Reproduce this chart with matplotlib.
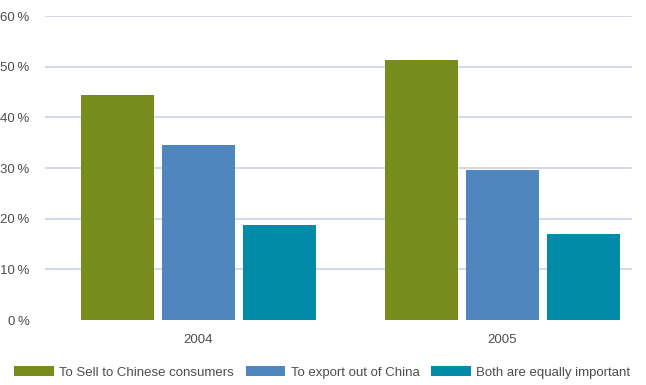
import matplotlib.pyplot as plt
import numpy as np
from matplotlib.ticker import FuncFormatter

plt.rcParams['font.family'] = ['Liberation Sans', 'DejaVu Sans']

# survey shares (%) by year
years = ['2004', '2005']
series = ['To Sell to Chinese consumers', 'To export out of China', 'Both are equally important']
sell_china = [44.4, 51.3]
export_out = [34.6, 29.7]
both_equal = [18.8, 16.9]
colors = ['#788c1e', '#5086be', '#008ca8']

fig = plt.figure(figsize=(6.46, 3.85), dpi=100)
ax = fig.add_axes([0.0697, 0.1688, 0.9083, 0.7896])

x = np.arange(len(years))
width = 0.24
step = 0.2664
for i, (vals, label) in enumerate(zip([sell_china, export_out, both_equal], series)):
    ax.bar(x + (i - 1) * step, vals, width, color=colors[i], label=label, zorder=3)

ax.set_ylim(0, 60)
ax.set_xlim(-0.505, 1.426)
ax.set_yticks(range(0, 61, 10))
ax.yaxis.set_major_formatter(FuncFormatter(lambda v, p: '%d\u2009%%' % v))
ax.set_xticks(x)
ax.set_xticklabels(years)
ax.grid(axis='y', color='#cdd3e8', linewidth=1.2, zorder=0)
ax.yaxis.get_gridlines()[0].set_visible(False)
for s in ax.spines.values():
    s.set_visible(False)
ax.tick_params(length=0, colors='#4d4d4d', labelsize=9.5)
ax.tick_params(axis='y', pad=11)
ax.tick_params(axis='x', pad=10)

fig.legend(loc='lower left', bbox_to_anchor=(0.01, -0.005), ncol=3, frameon=False,
           fontsize=9.5, handlelength=3.0, handleheight=0.8, handletextpad=0.4,
           columnspacing=0.9, labelcolor='#4d4d4d', borderaxespad=0.2)

fig.savefig('out.png', dpi=100)
